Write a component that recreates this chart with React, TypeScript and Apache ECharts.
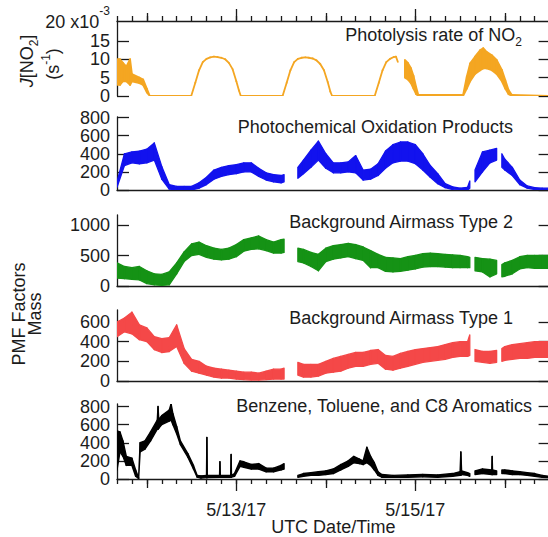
import React, { useEffect, useRef } from 'react';
import * as echarts from 'echarts';

// ---------- data (x in hours since 2017-05-11 00:00 UTC) ----------
const xMin = 16;
const xMax = 132;
const minorTickHours = [16, 20, 24, 28, 32, 36, 40, 44, 48, 52, 56, 60, 64, 68, 72, 76, 80, 84, 88, 92, 96, 100, 104, 108, 112, 116, 120, 124, 128, 132];
const dayTickHours = [24, 72, 120];
const dateTickHours = [48, 96];
const dateTickLabels = ['5/13/17', '5/15/17'];

// J(NO2), units of 1e-3 s^-1
const jHours = [16, 16.8, 17.6, 18.5, 19.5, 20, 22, 23, 24, 24.8, 35.9, 37, 38, 39, 40, 41, 42, 43, 44, 45, 46, 47, 48, 48.7, 49.2, 60.4, 61.5, 62.5, 63.5, 64.5, 65.5, 66.5, 67.5, 68.5, 69.5, 70.5, 71.5, 72.5, 73.2, 73.7, 85.1, 86.2, 87.2, 88.2, 89.2, 90.2, 90.8, 91.3, 92.2, 93.2, 94, 94.8, 95.5, 96.2, 96.8, 108.8, 109.8, 110.7, 112, 113.4, 114.2, 115.1, 116.5, 117.8, 119.2, 120.1, 121, 121.9, 132];
const jLow = [3, 3, 4, 4, 3, 4, 3.5, 3, 1, 0, 0, 3.6, 7, 9.2, 10.1, 10.5, 10.7, 10.6, 10.4, 10, 9, 7.3, 4, 1.5, 0, 0, 3.6, 7, 9.2, 10.1, 10.4, 10.5, 10.4, 10.2, 9.7, 8.7, 7, 3.8, 1.2, 0, 0, 3.6, 7, 9.2, 10.1, 10.6, 10.7, 9.3, null, 5, 4.5, 3.5, 2, 0.5, 0, 0, 2, 4, 6, 7, 7.5, 7.5, 7, 6, 4, 2, 0.5, 0, 0];
const jHigh = [10, 10, 9, 8, 10, 6, 5, 4.5, 2, 0, 0, 3.6, 7, 9.2, 10.1, 10.5, 10.7, 10.6, 10.4, 10, 9, 7.3, 4, 1.5, 0, 0, 3.6, 7, 9.2, 10.1, 10.4, 10.5, 10.4, 10.2, 9.7, 8.7, 7, 3.8, 1.2, 0, 0, 3.6, 7, 9.2, 10.1, 10.6, 10.7, 9.3, null, 9.8, 9, 7.6, 5.5, 2.5, 0.3, 0.3, 5.3, 8.9, 10.7, 12.5, 13, 12, 11.1, 9.8, 7.1, 4.4, 1.6, 0.3, 0];

// PMF factor time base
const pmfHours = [16, 18, 20, 22, 24, 26, 28, 30, 32, 34, 36, 38, 40, 42, 44, 46, 48, 50, 52, 54, 56, 58, 60, 60.8, 62.5, 64.5, 66, 68, 70, 72, 74, 76, 78, 80, 82, 84, 86, 88, 90, 92, 94, 96, 98, 100, 102, 104, 106, 108, 110, 110.6, 111.3, 112, 114, 116, 117.8, 118.5, 119.2, 120, 122, 124, 126, 128, 130, 132];

// Photochemical Oxidation Products (envelope low / high)
const poxLow = [30, 270, 300, 290, 300, 330, 120, 10, 0, 0, 0, 20, 60, 120, 150, 170, 180, 200, 200, 150, 110, 90, 80, 90, null, 130, 180, 250, 330, 240, 190, 190, 200, 190, 110, 120, 160, 240, 300, 320, 320, 290, 220, 140, 70, 25, 5, 0, 0, 20, null, 90, 200, 300, 330, null, 250, 220, 160, 60, 20, 5, 5, 5];
const poxHigh = [90, 400, 420, 430, 450, 520, 260, 60, 40, 40, 40, 80, 140, 220, 250, 270, 280, 300, 300, 240, 190, 170, 160, 170, null, 250, 330, 440, 540, 400, 300, 300, 310, 380, 220, 230, 290, 430, 500, 530, 530, 500, 400, 270, 180, 70, 35, 20, 30, 100, null, 220, 420, 440, 460, null, 400, 340, 250, 110, 45, 25, 20, 20];

// Background Airmass Type 2
const bg2Low = [130, 120, 110, 100, 40, 20, 10, 20, 200, 400, 500, 520, 470, 440, 430, 440, 480, 570, 600, 610, 580, 540, 540, 550, null, 400, 380, 320, 250, 400, 440, 460, 480, 450, 420, 300, 300, 240, 230, 240, 260, 280, 310, 320, 320, 310, 300, 300, 300, 300, null, 250, 230, 150, 200, null, 150, 160, 200, 280, 300, 290, 290, 290];
const bg2High = [380, 320, 300, 320, 250, 200, 190, 230, 380, 560, 690, 720, 660, 620, 600, 620, 680, 760, 790, 820, 760, 720, 760, 770, null, 620, 600, 550, 520, 620, 660, 680, 700, 680, 640, 580, 520, 470, 460, 450, 480, 500, 530, 540, 530, 520, 510, 500, 480, 470, null, 470, 450, 440, 420, null, 350, 380, 420, 480, 500, 500, 500, 500];

// Background Airmass Type 1
const bg1Low = [450, 500, 480, 420, 400, 320, 290, 300, 350, 180, 100, 80, 60, 40, 30, 30, 20, 15, 10, 10, 15, 20, 20, 20, null, 60, 40, 40, 50, 80, 90, 100, 130, 150, 150, 170, 180, 120, 110, 130, 150, 170, 190, 200, 210, 220, 240, 250, 250, 260, null, 200, 190, 180, 190, null, 200, 210, 220, 230, 230, 240, 240, 240];
const bg1High = [600, 640, 700, 570, 540, 450, 430, 440, 570, 330, 220, 200, 150, 130, 120, 110, 100, 90, 90, 80, 100, 120, 120, 130, null, 190, 170, 170, 170, 200, 230, 250, 270, 290, 290, 310, 320, 260, 250, 280, 300, 320, 330, 340, 350, 370, 390, 400, 400, 470, null, 320, 300, 300, 310, null, 330, 350, 370, 380, 390, 400, 400, 400];

// Benzene, Toluene, and C8 Aromatics
const btexHours = [16, 16.8, 17.6, 18.5, 20, 21, 21.8, 22.2, 23.5, 25, 26.8, 27, 27.2, 28, 30, 30.5, 31, 32, 33, 35, 36.5, 37.5, 38.5, 40, 40.1, 40.2, 43.5, 43.6, 43.7, 46.5, 46.6, 46.7, 47.5, 49, 50, 52, 54, 56, 58, 60, 60.8, 62.5, 64.5, 66, 68, 70, 72, 74, 76, 78, 79.5, 81, 82, 83, 84, 85, 86, 87, 90, 94, 98, 102, 106, 108, 108.2, 108.4, 110, 110.6, 111.3, 112, 114, 116.5, 116.6, 116.7, 117.8, 118.5, 119.2, 120, 122, 124, 126, 128, 130, 132];
const btexLow = [100, 300, 250, 150, 150, 30, 5, 300, 330, 420, 550, 550, 560, 600, 640, 650, 600, 500, 380, 240, 110, 20, 10, 15, 15, 15, 20, 20, 20, 20, 20, 20, 30, 140, 130, 110, 110, 80, 80, 100, 110, null, 20, 30, 40, 40, 50, 60, 100, 140, 180, 170, 160, 180, 150, 100, 40, 20, 20, 20, 25, 20, 30, 40, 40, 50, 40, 30, null, 50, 60, 50, 50, 50, 50, null, 60, 60, 50, 50, 40, 30, 20, 15];
const btexHigh = [530, 520, 420, 250, 230, 100, 15, 400, 420, 520, 650, 800, 660, 700, 760, 830, 720, 580, 420, 280, 150, 40, 35, 40, 460, 40, 40, 190, 40, 40, 270, 40, 60, 200, 190, 160, 170, 120, 120, 150, 170, null, 40, 60, 70, 80, 90, 110, 160, 200, 250, 220, 200, 350, 250, 180, 80, 50, 40, 45, 50, 45, 60, 80, 300, 90, 70, 60, null, 90, 110, 100, 250, 100, 90, null, 100, 100, 90, 80, 70, 60, 40, 30];

const panelTitles = ['Photolysis rate of NO', 'Photochemical Oxidation Products', 'Background Airmass Type 2', 'Background Airmass Type 1', 'Benzene, Toluene, and C8 Aromatics'];
const yMaxes = [20.4, 806, 1164, 722, 828];
const yLabelValues = [[0, 5, 10, 15, 20], [0, 200, 400, 600, 800], [0, 500, 1000], [0, 200, 400, 600], [0, 200, 400, 600, 800]];
const yTickValues = [[0, 5, 10, 15], [0, 200, 400, 600, 800], [0, 500, 1000], [0, 200, 400, 600], [0, 200, 400, 600, 800]];

// ---------- styling ----------
const FONT = '"Liberation Sans", Arial, Helvetica, sans-serif';
const TXT = '#1c1c1c';
const AX = '#1a1a1a';
const colors = ['#F4A622', '#1212EE', '#159215', '#F44848', '#000000'];
const gridTops = [21, 117, 215, 310, 404];
const gridHeights = [75, 73, 71, 71, 75];
const GRID_LEFT = 117;
const GRID_W = 432.6;

// band between low and high envelopes, drawn segment by segment through the axes' scales
function band(hours: number[], low: (number | null)[], high: (number | null)[], color: string, xi: number, yi: number, w: number) {
  const segs: number[][] = [];
  for (let i = 0; i < hours.length - 1; i++) {
    const a = low[i], b = high[i], c = low[i + 1], d = high[i + 1];
    if (a == null || b == null || c == null || d == null) continue;
    segs.push([hours[i], a, b, hours[i + 1], c, d]);
  }
  return {
    type: 'custom', xAxisIndex: xi, yAxisIndex: yi, silent: true, clip: true, animation: false,
    encode: { x: [0, 3], y: [1, 2, 4, 5] },
    data: segs,
    renderItem: (_p: any, api: any) => {
      const p0l = api.coord([api.value(0), api.value(1)]);
      const p0h = api.coord([api.value(0), api.value(2)]);
      const p1l = api.coord([api.value(3), api.value(4)]);
      const p1h = api.coord([api.value(3), api.value(5)]);
      return {
        type: 'polygon',
        shape: { points: [p0l, p1l, p1h, p0h] },
        style: { fill: color, stroke: color, lineWidth: w, lineJoin: 'round' },
      };
    },
  };
}

export default function App() {
  const ref = useRef<HTMLDivElement>(null);
  useEffect(() => {
    const chart = echarts.init(ref.current!, null, { renderer: 'svg' });
    const axisLine = { show: true, onZero: false, lineStyle: { color: AX, width: 1.3 } };
    const noLine = { show: false, onZero: false };
    const tickLine = { color: AX, width: 1.3 };

    const grid = gridTops.map((t, i) => ({ left: GRID_LEFT, top: t, width: GRID_W, height: gridHeights[i], outerBoundsMode: 'none', containLabel: false }));

    const xBase = (g: number, pos: string) => ({
      type: 'value', gridIndex: g, min: xMin, max: xMax, position: pos,
      splitLine: { show: false }, axisLabel: { show: false }, axisPointer: { show: false },
    });

    const xAxis: any[] = [
      { ...xBase(0, 'top'), axisLine, axisTick: { show: true, length: 5, customValues: minorTickHours, lineStyle: tickLine } },
      { ...xBase(0, 'top'), axisLine: noLine, axisTick: { show: true, length: 8, customValues: dayTickHours, lineStyle: tickLine } },
      { ...xBase(0, 'top'), axisLine: noLine, axisTick: { show: true, length: 12, customValues: dateTickHours, lineStyle: tickLine } },
      { ...xBase(1, 'bottom'), axisLine, axisTick: { show: false } },
      { ...xBase(2, 'bottom'), axisLine, axisTick: { show: false } },
      { ...xBase(3, 'bottom'), axisLine, axisTick: { show: false } },
      { ...xBase(4, 'bottom'), axisLine, axisTick: { show: true, length: 5, customValues: minorTickHours, lineStyle: tickLine } },
      { ...xBase(4, 'bottom'), axisLine: noLine, axisTick: { show: true, length: 9, customValues: dayTickHours, lineStyle: tickLine } },
      {
        ...xBase(4, 'bottom'), axisLine: noLine,
        axisTick: { show: true, length: 12, customValues: dateTickHours, lineStyle: tickLine },
        axisLabel: {
          show: true, customValues: dateTickHours, margin: 23, fontSize: 18, lineHeight: 16, fontFamily: FONT, color: TXT,
          formatter: (v: number) => dateTickLabels[dateTickHours.indexOf(v)] ?? '',
        },
        name: 'UTC Date/Time', nameLocation: 'middle', nameGap: 40, nameMoveOverlap: false,
        nameTextStyle: { fontSize: 18, fontFamily: FONT, color: TXT, lineHeight: 16 },
      },
    ];
    const mainX = [0, 3, 4, 5, 6];

    const yAxis: any[] = [];
    const labelBase = { show: true, margin: 7, fontSize: 18, lineHeight: 16, fontFamily: FONT, color: TXT, showMinLabel: true, showMaxLabel: true, hideOverlap: false };
    for (let p = 0; p < 5; p++) {
      const evenLabels = yLabelValues[p].filter((_, i) => i % 2 === 0);
      const oddLabels = yLabelValues[p].filter((_, i) => i % 2 === 1);
      yAxis.push({
        type: 'value', gridIndex: p, min: 0, max: yMaxes[p], position: 'left',
        splitLine: { show: false }, axisLine,
        axisTick: { show: true, inside: true, length: 12, customValues: yTickValues[p], lineStyle: tickLine },
        axisLabel: {
          ...labelBase, customValues: evenLabels,
          formatter: p === 0 ? (v: number) => (v === 20 ? '{n|20 x10}{sup|-3}' : String(v)) : (v: number) => String(v),
          rich: p === 0 ? {
            n: { fontSize: 18, fontFamily: FONT, color: TXT, lineHeight: 34 },
            sup: { fontSize: 12, fontFamily: FONT, color: TXT, lineHeight: 12, verticalAlign: 'top' },
          } : undefined,
        },
      });
      yAxis.push({
        type: 'value', gridIndex: p, min: 0, max: yMaxes[p], position: 'left', offset: 0,
        splitLine: { show: false }, axisLine: noLine, axisTick: { show: false },
        axisLabel: { ...labelBase, show: oddLabels.length > 0, customValues: oddLabels, formatter: (v: number) => String(v) },
      });
      yAxis.push({
        type: 'value', gridIndex: p, min: 0, max: yMaxes[p], position: 'right',
        splitLine: { show: false }, axisLine,
        axisTick: { show: true, inside: true, length: 11, customValues: yTickValues[p], lineStyle: tickLine },
        axisLabel: { show: false },
      });
    }

    const series: any[] = [
      band(jHours, jLow, jHigh, colors[0], mainX[0], 0, 1.8),
      band(pmfHours, poxLow, poxHigh, colors[1], mainX[1], 3, 1.3),
      band(pmfHours, bg2Low, bg2High, colors[2], mainX[2], 6, 1.3),
      band(pmfHours, bg1Low, bg1High, colors[3], mainX[3], 9, 1.3),
      band(btexHours, btexLow, btexHigh, colors[4], mainX[4], 12, 1.4),
    ];

    const richMain = {
      a: { fontSize: 18, fontFamily: FONT, fill: TXT, lineHeight: 26 },
      i: { fontSize: 18, fontFamily: FONT, fill: TXT, lineHeight: 26, fontStyle: 'italic' },
      sub: { fontSize: 12, fontFamily: FONT, fill: TXT, lineHeight: 12, verticalAlign: 'bottom' },
      sup: { fontSize: 12, fontFamily: FONT, fill: TXT, lineHeight: 12, verticalAlign: 'top' },
    };
    const titleRight = [522, 513, 513, 513, 532];
    const titleY = [35, 127, 222, 318, 406];
    const graphic: any[] = panelTitles.map((t, i) => ({
      type: 'text', x: titleRight[i], y: titleY[i], silent: true, z: 100,
      style: {
        text: i === 0 ? `{a|${t}}{sub|2}` : `{a|${t}}`,
        align: 'right', verticalAlign: 'middle', fill: TXT, font: `18px ${FONT}`, rich: richMain,
      },
    }));
    graphic.push(
      { type: 'text', x: 26.5, y: 61, rotation: Math.PI / 2, silent: true, z: 100,
        style: { text: '{i|J}{a|[NO}{sub|2}{a|]}', align: 'center', verticalAlign: 'middle', fill: TXT, font: `18px ${FONT}`, rich: richMain } },
      { type: 'text', x: 53, y: 64, rotation: Math.PI / 2, silent: true, z: 100,
        style: { text: '{a|(s}{sup|-1}{a|)}', align: 'center', verticalAlign: 'middle', fill: TXT, font: `18px ${FONT}`, rich: richMain } },
      { type: 'text', x: 19, y: 314, rotation: Math.PI / 2, silent: true, z: 100,
        style: { text: 'PMF Factors', align: 'center', verticalAlign: 'middle', fill: TXT, font: `18px ${FONT}` } },
      { type: 'text', x: 35, y: 314, rotation: Math.PI / 2, silent: true, z: 100,
        style: { text: 'Mass', align: 'center', verticalAlign: 'middle', fill: TXT, font: `18px ${FONT}` } },
    );

    chart.setOption({
      animation: false,
      backgroundColor: '#ffffff',
      textStyle: { fontFamily: FONT },
      grid, xAxis, yAxis, series, graphic,
    });
    return () => chart.dispose();
  }, []);
  return <div ref={ref} style={{ position: 'absolute', left: 0, top: 0, width: 548, height: 537 }} />;
}
